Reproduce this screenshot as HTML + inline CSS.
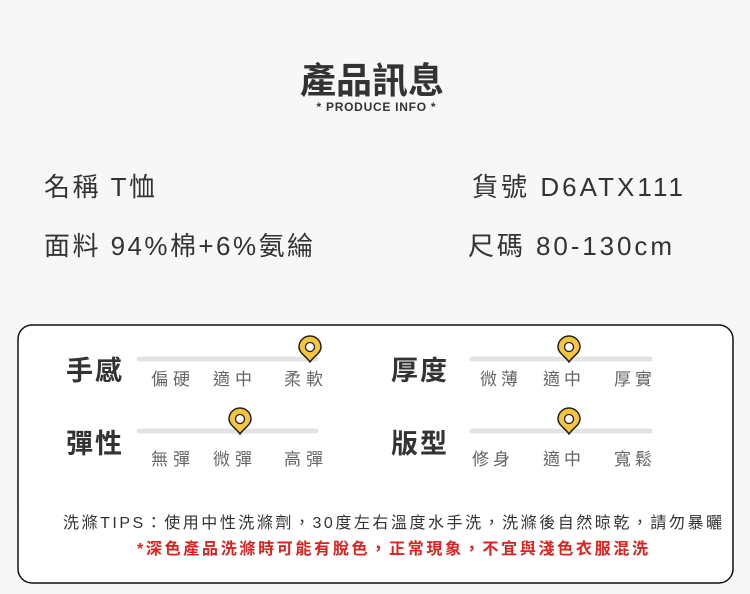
<!DOCTYPE html>
<html><head><meta charset="utf-8"><style>
html,body{margin:0;padding:0;background:#f7f7f7;}
svg{display:block}
text{font-family:"Liberation Sans","Noto Sans CJK TC",sans-serif;}
</style></head><body>
<svg width="750" height="594" viewBox="0 0 750 594" xmlns="http://www.w3.org/2000/svg">
<defs>
<g id="pin"><path d="M0,0 C-4,-6 -11,-9 -11,-15 A11,11 0 1 1 11,-15 C11,-9 4,-6 0,0Z" fill="#f6c43f" stroke="#222" stroke-width="1.5"/><circle cx="0" cy="-15" r="4.5" fill="#fff" stroke="#222" stroke-width="1.3"/></g>
</defs>
<rect width="750" height="594" fill="#f7f7f7"/>
<text x="372" y="93" font-size="36" font-weight="bold" fill="#333" text-anchor="middle" textLength="144">產品訊息</text>
<text x="376" y="111" font-size="12" font-weight="bold" fill="#333" text-anchor="middle" textLength="119">* PRODUCE INFO *</text>
<g font-size="26" fill="#333">
<text x="44" y="196" textLength="111">名稱 T恤</text>
<text x="472" y="196" textLength="211">貨號 D6ATX111</text>
<text x="44" y="255" textLength="269">面料 94%棉+6%氨綸</text>
<text x="468" y="255" textLength="204">尺碼 80-130cm</text>
</g>
<rect x="18" y="325" width="715" height="258" rx="14" fill="#fff" stroke="#111" stroke-width="1.5"/>
<g font-size="27" font-weight="bold" fill="#333">
<text x="66" y="380" textLength="56">手感</text>
<text x="66" y="453" textLength="56">彈性</text>
<text x="391" y="380" textLength="56">厚度</text>
<text x="391" y="453" textLength="56">版型</text>
</g>
<g stroke="#e3e3e3" stroke-width="5" stroke-linecap="round">
<line x1="139" y1="359" x2="316" y2="359"/>
<line x1="139" y1="431" x2="316" y2="431"/>
<line x1="472" y1="359" x2="650" y2="359"/>
<line x1="472" y1="431" x2="650" y2="431"/>
</g>
<g font-size="17" fill="#666">
<text x="151" y="385" textLength="39">偏硬</text>
<text x="213" y="385" textLength="39">適中</text>
<text x="284" y="385" textLength="39">柔軟</text>
<text x="151" y="465" textLength="39">無彈</text>
<text x="213" y="465" textLength="39">微彈</text>
<text x="284" y="465" textLength="39">高彈</text>
<text x="480" y="385" textLength="38">微薄</text>
<text x="543" y="385" textLength="38">適中</text>
<text x="614" y="385" textLength="38">厚實</text>
<text x="472" y="465" textLength="38">修身</text>
<text x="543" y="465" textLength="38">適中</text>
<text x="614" y="465" textLength="38">寬鬆</text>
</g>
<use href="#pin" x="310" y="362"/>
<use href="#pin" x="240" y="434"/>
<use href="#pin" x="569" y="362"/>
<use href="#pin" x="569" y="434"/>
<text x="63" y="528" font-size="16" fill="#333" textLength="659">洗滌TIPS：使用中性洗滌劑，30度左右溫度水手洗，洗滌後自然晾乾，請勿暴曬</text>
<text x="137" y="554" font-size="16" font-weight="bold" fill="#e0201c" textLength="511">*深色產品洗滌時可能有脫色，正常現象，不宜與淺色衣服混洗</text>
</svg>
</body></html>
